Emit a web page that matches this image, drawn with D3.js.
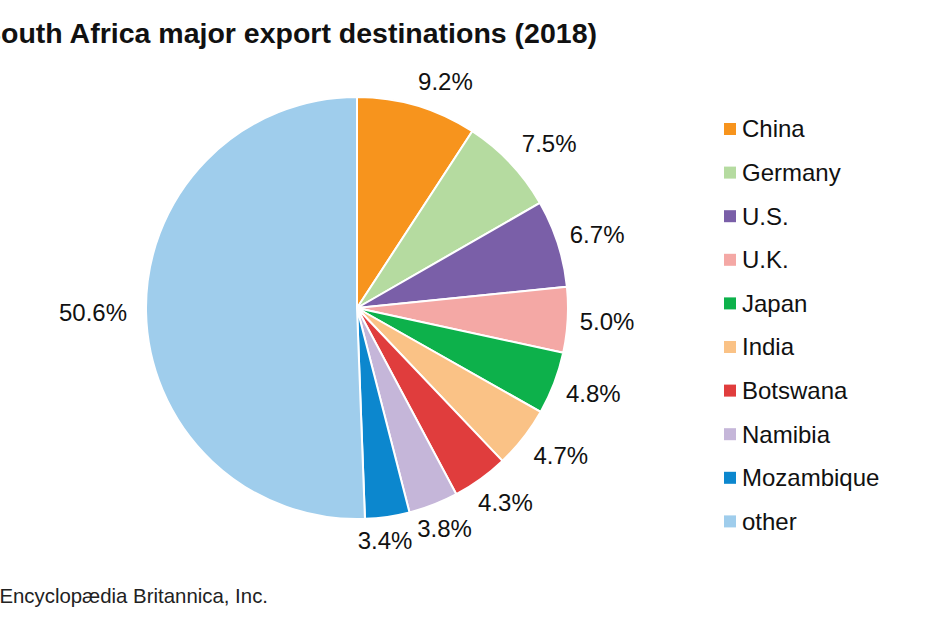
<!DOCTYPE html>
<html>
<head>
<meta charset="utf-8">
<style>
  body { margin: 0; background: #fff; }
  svg { display: block; font-family: "Liberation Sans", Arial, sans-serif; }
</style>
</head>
<body>
<svg id="chart" width="930" height="620"></svg>
<script src="https://cdn.jsdelivr.net/npm/d3@7/dist/d3.min.js"></script>
<script>

  // data (percent share of exports, 2018)
  const countries = ["China", "Germany", "U.S.", "U.K.", "Japan", "India",
                     "Botswana", "Namibia", "Mozambique", "other"]
  const shares = [9.2, 7.5, 6.7, 5.0, 4.8, 4.7, 4.3, 3.8, 3.4, 50.6]
  const sliceColors = ["#F7941D", "#B5DBA0", "#7A5FA8", "#F4A8A5", "#0DB14B",
                       "#FAC286", "#E03D3D", "#C5B6D9", "#0C87CE", "#9FCDEC"]

  const title = "South Africa major export destinations (2018)"
  const credit = "© Encyclopædia Britannica, Inc."

  const cx = 357, cy = 308, radius = 211

  const data = countries.map((c, i) => ({name: c, value: shares[i]}))

  const svg = d3.select("#chart")

  const color = d3.scaleOrdinal()
    .domain(countries)
    .range(sliceColors)

  const pie = d3.pie()
    .value(d => d.value)
    .sort(null)

  const arc = d3.arc()
    .innerRadius(0)
    .outerRadius(radius)

  const arcs = pie(data)

  // title (the left edge is cut off in the original)
  svg.append("text")
    .attr("x", 597)
    .attr("y", 43)
    .attr("text-anchor", "end")
    .style("font-size", "28.5px")
    .style("font-weight", "bold")
    .style("fill", "#111")
    .text(title)

  const gPie = svg.append("g")
    .attr("transform", `translate(${cx}, ${cy})`)

  gPie.selectAll("path")
    .data(arcs)
    .enter().append("path")
      .attr("d", arc)
      .attr("fill", d => color(d.data.name))
      .attr("stroke", "#fff")
      .attr("stroke-width", 2)
      .attr("stroke-linejoin", "round")

  // percentage labels outside the pie, box pushed out from the slice edge
  const fmt = d3.format(".1f")
  const labelSize = 24, gap = 10

  gPie.selectAll(".pct")
    .data(arcs)
    .enter().append("text")
      .attr("class", "pct")
      .style("font-size", labelSize + "px")
      .style("fill", "#111")
      .attr("text-anchor", "middle")
      .attr("dy", "0.35em")
      .text(d => fmt(d.data.value) + "%")
      .each(function(d) {
        const w = this.getComputedTextLength()
        const a = (d.startAngle + d.endAngle) / 2
        const s = Math.sin(a), c = Math.cos(a)
        const r = radius + 2
        // small labels near the bottom get squeezed together
        const fx = c > 0 ? Math.min(1, Math.abs(s) * 2.6)
                         : Math.max(-0.2, Math.min(1, Math.abs(s) * 1.6 - 0.3))
        const fy = Math.min(1, Math.abs(c) * 1.2)
        const gx = gap + (s < -0.99 ? 7 : 0)
        const x = s * r + Math.sign(s) * fx * (w / 2 + gx)
        const y = -c * r - Math.sign(c) * fy * (labelSize / 2 + gap)
        d3.select(this)
          .attr("x", x)
          .attr("y", y)
      })

  // legend
  const legend = svg.append("g")
    .attr("transform", "translate(724, 129)")

  const rowStep = 43.6

  const item = legend.selectAll(".item")
    .data(countries)
    .enter().append("g")
      .attr("class", "item")
      .attr("transform", (d, i) => `translate(0, ${i * rowStep})`)

  item.append("rect")
    .attr("x", 0)
    .attr("y", -6)
    .attr("width", 12)
    .attr("height", 12)
    .attr("fill", d => color(d))

  item.append("text")
    .attr("x", 18)
    .attr("dy", "0.35em")
    .style("font-size", "24px")
    .style("fill", "#111")
    .text(d => d)

  // credit line (copyright sign falls off the left edge as in the original)
  svg.append("text")
    .attr("x", 268)
    .attr("y", 603)
    .attr("text-anchor", "end")
    .style("font-size", "20.4px")
    .style("fill", "#222")
    .text(credit)

</script>
</body>
</html>
